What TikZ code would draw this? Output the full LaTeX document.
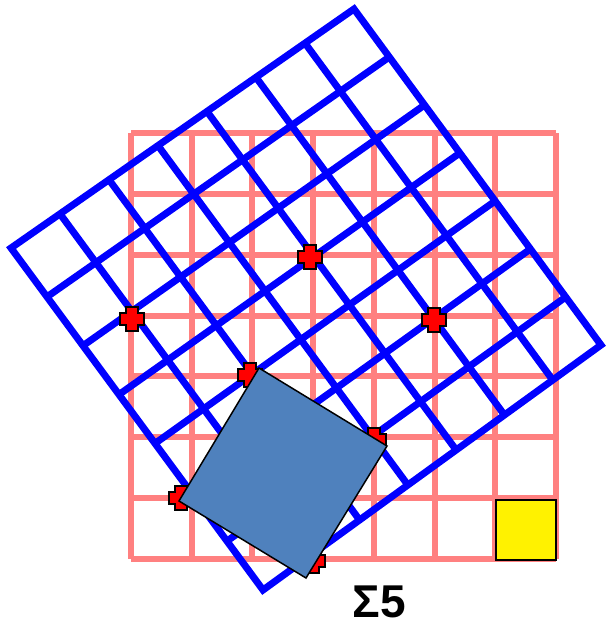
\documentclass[tikz,border=0pt]{standalone}
\usepackage{fontspec}
\setmainfont{Liberation Sans}
\usetikzlibrary{calc}
\definecolor{pinkgrid}{RGB}{255,128,128}
\definecolor{bluegrid}{RGB}{0,0,255}
\definecolor{cellblue}{RGB}{79,129,189}
\tikzset{
  pinkline/.style={pinkgrid, line width=6pt, line cap=square},
  blueline/.style={bluegrid, line width=7pt},
  redplus/.pic={\draw[fill=red, line width=1.4pt, line join=miter]
    (-6,-12) -- (6,-12) -- (6,-6) -- (12,-6) -- (12,6) -- (6,6)
    -- (6,12) -- (-6,12) -- (-6,6) -- (-12,6) -- (-12,-6) -- (-6,-6) -- cycle;},
  cellbox/.style={draw=black, line width=1.5pt, line join=miter}
}
\begin{document}
\begin{tikzpicture}[x=1pt,y=-1pt]
\useasboundingbox (0,0) rectangle (608,626);
% pink square grid
\foreach \i in {0,...,7}{
  \draw[pinkline] ({131+\i*425/7},133) -- ({131+\i*425/7},559);
  \draw[pinkline] (131,{133+\i*426/7}) -- (556,{133+\i*426/7});
}
% yellow cell
\draw[cellbox, fill=yellow] (496,500) rectangle (556,560);
% rotated blue grid
\coordinate (L) at (11,248);
\coordinate (T) at (354,9);
\coordinate (R) at (601,345);
\coordinate (B) at (263,590);
\foreach \i in {1,...,6}{
  \draw[blueline] ($(L)!{\i/7}!(T)$) -- ($(B)!{\i/7}!(R)$);
  \draw[blueline] ($(L)!{\i/7}!(B)$) -- ($(T)!{\i/7}!(R)$);
}
\draw[blueline, line join=miter] (L) -- (T) -- (R) -- (B) -- cycle;
% coincidence sites
\foreach \p in {(132,319),(310,257),(434,320),(250,375),(374,440),(181,498),(313,561)}{
  \pic at \p {redplus};
}
% CSL cell
\draw[cellbox, fill=cellblue] (259,368) -- (387,446) -- (306,578) -- (179,501) -- cycle;
% label
\node[anchor=base, inner sep=0pt, font=\bfseries\fontsize{46}{46}\selectfont] (sigma) at (379,617) {Σ5};
\end{tikzpicture}
\end{document}
